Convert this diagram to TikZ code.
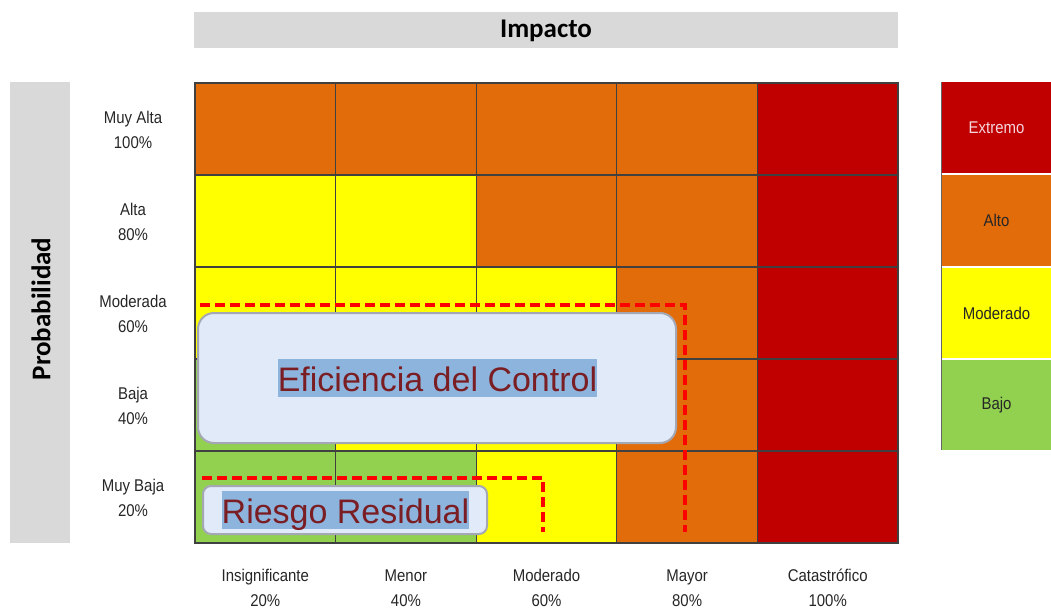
\documentclass[tikz,border=0pt]{standalone}
\usepackage{fontspec}
\setmainfont{Liberation Sans}
\newfontfamily\narrowf[FakeStretch=0.88]{Liberation Sans}
\newfontfamily\carl{Carlito}
\definecolor{orng}{HTML}{E36C0A}
\definecolor{redd}{HTML}{C00000}
\definecolor{yell}{HTML}{FFFF00}
\definecolor{gren}{HTML}{92D050}
\definecolor{barg}{HTML}{D9D9D9}
\definecolor{boxfill}{HTML}{E1EAF9}
\definecolor{boxline}{HTML}{A4A8B4}
\definecolor{hlite}{HTML}{8DB4DD}
\definecolor{txtred}{HTML}{7A1E23}
\definecolor{extxt}{HTML}{F4D6DC}
\begin{document}
\begin{tikzpicture}[x=1pt,y=-1pt,
  cell/.style={draw=black!75,line width=1.2pt,minimum width=140.6pt,minimum height=92pt,inner sep=0pt},
  lbl/.style={font=\narrowf\fontsize{17}{25.5}\selectfont,text=black!85,align=center,inner sep=0pt},
  legbox/.style={minimum width=109pt,minimum height=91pt,inner sep=0pt,font=\narrowf\fontsize{17}{20}\selectfont},
  hdr/.style={fill=barg,inner sep=0pt},
  ctlbox/.style={draw=boxline,line width=2pt,fill=boxfill,inner sep=0pt},
  hl/.style={fill=hlite,text=txtred,inner xsep=0pt,inner ysep=0pt,text height=32pt,text depth=6pt,font=\fontsize{34}{37}\selectfont},
  dashline/.style={draw=red,line width=3.2pt,dash pattern=on 10pt off 5pt}]
\useasboundingbox (0,0) rectangle (1051,610);
% header bars
\node[hdr,minimum width=704pt,minimum height=36pt] (imp) at (546,30) {};
\node[font=\carl\bfseries\fontsize{27}{30}\selectfont,inner sep=0pt] (imptxt) at (546,31) {Impacto};
\node[hdr,minimum width=60pt,minimum height=461pt] (prob) at (40,312.5) {};
\node[font=\carl\bfseries\fontsize{27}{30}\selectfont,inner sep=0pt,rotate=90] (probtxt) at (41,309) {Probabilidad};
% grid cells
\foreach \r/\c/\col in {1/1/orng,1/2/orng,1/3/orng,1/4/orng,1/5/redd,
                        2/1/yell,2/2/yell,2/3/orng,2/4/orng,2/5/redd,
                        3/1/yell,3/2/yell,3/3/yell,3/4/orng,3/5/redd,
                        4/1/gren,4/2/yell,4/3/yell,4/4/orng,4/5/redd,
                        5/1/gren,5/2/gren,5/3/yell,5/4/orng,5/5/redd}
  \node[cell,fill=\col] (c\r\c) at ({195+(\c-0.5)*140.6},{83+(\r-0.5)*92}) {};
% row labels
\node[lbl] (r1) at (133,130) {Muy Alta\\100\%};
\node[lbl] (r2) at (133,222) {Alta\\80\%};
\node[lbl] (r3) at (133,314) {Moderada\\60\%};
\node[lbl] (r4) at (133,406) {Baja\\40\%};
\node[lbl] (r5) at (133,498) {Muy Baja\\20\%};
% column labels
\node[lbl] (k1) at (265.3,588) {Insignificante\\20\%};
\node[lbl] (k2) at (405.9,588) {Menor\\40\%};
\node[lbl] (k3) at (546.5,588) {Moderado\\60\%};
\node[lbl] (k4) at (687.1,588) {Mayor\\80\%};
\node[lbl] (k5) at (827.7,588) {Catastrófico\\100\%};
% legend
\node[legbox,fill=redd,text=extxt] (leg1) at (996.5,127.5) {Extremo};
\node[legbox,fill=orng,text=black!85] (leg2) at (996.5,220.5) {Alto};
\node[legbox,fill=yell,text=black!85,minimum height=90pt] (leg3) at (996.5,313) {Moderado};
\node[legbox,fill=gren,text=black!85,minimum height=90pt] (leg4) at (996.5,405) {Bajo};
\draw[black!60,line width=1pt] (leg1.north west) -- (leg4.south west);
% dashed lines
\coordinate (d1a) at (200,305);
\coordinate (d1b) at (685,305);
\coordinate (d1c) at (685,532);
\coordinate (d2a) at (202,478);
\coordinate (d2b) at (543,478);
\coordinate (d2c) at (543,532);
\draw[dashline] (d1a) -- (d1b) -- (d1c);
\draw[dashline] (d2a) -- (d2b) -- (d2c);
% control boxes
\node[ctlbox,rounded corners=16pt,minimum width=478pt,minimum height=130pt] (efbox) at (437,378) {};
\node[hl,anchor=base] (eftxt) at (437.5,391) {Eficiencia del Control};
\node[ctlbox,rounded corners=8pt,minimum width=284pt,minimum height=48pt] (rrbox) at (345,510) {};
\node[hl,anchor=base] (rrtxt) at (345.5,523) {Riesgo Residual};
\end{tikzpicture}
\end{document}
